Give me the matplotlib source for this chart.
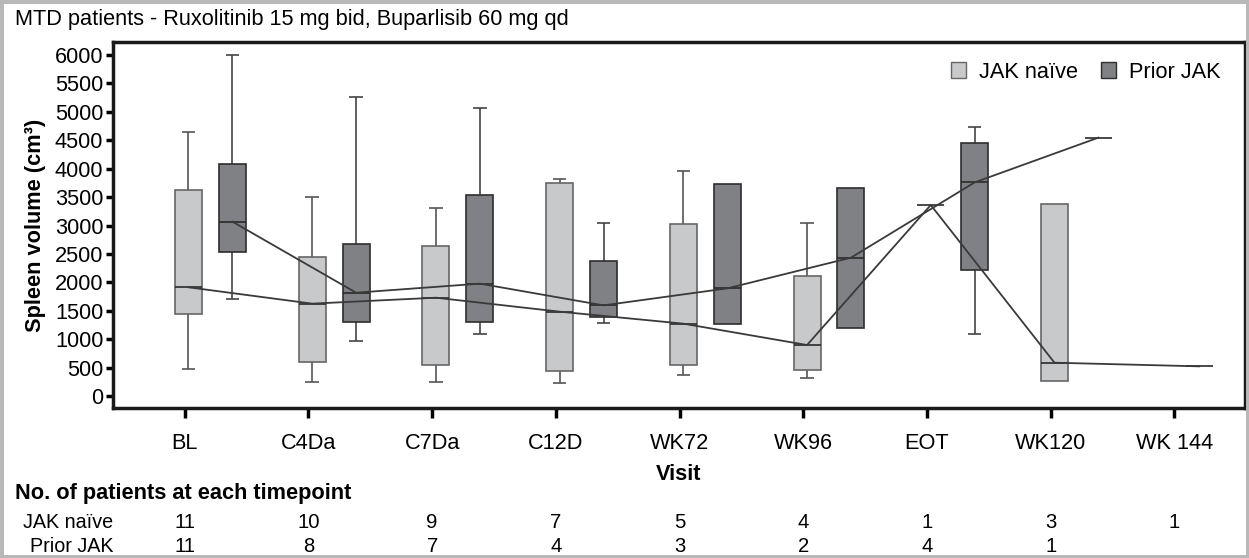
import numpy as np
import matplotlib
matplotlib.use("Agg")
import matplotlib.pyplot as plt
from matplotlib.patches import Rectangle, Patch

plt.rcParams['font.family'] = ['Liberation Sans', 'DejaVu Sans']

nan = np.nan
visits = ["BL", "C4Da", "C7Da", "C12D", "WK72", "WK96", "EOT", "WK120", "WK 144"]

naive_whishi = [4651, 3496, 3302, 3813, 3959, 3038, nan, nan, nan]
naive_q3     = [3619, 2452, 2646, 3742, 3020, 2118, nan, 3373, nan]
naive_med    = [1913, 1625, 1730, 1484, 1273, 897, 3361, 586, 522]
naive_q1     = [1443, 592, 540, 440, 540, 457, nan, 269, nan]
naive_whislo = [475, 253, 253, 223, 376, 323, nan, nan, nan]

prior_whishi = [6000, 5268, 5068, 3050, nan, nan, 4728, nan, nan]
prior_q3     = [4077, 2669, 3537, 2369, 3724, 3654, 4458, nan, nan]
prior_med    = [3068, 1818, 1977, 1595, 1894, 2434, 3759, 4546, nan]
prior_q1     = [2540, 1296, 1308, 1396, 1261, 1196, 2217, nan, nan]
prior_whislo = [1701, 962, 1091, 1278, nan, nan, 1091, nan, nan]

n_naive = ["11", "10", "9", "7", "5", "4", "1", "3", "1"]
n_prior = ["11", "8", "7", "4", "3", "2", "4", "1", ""]

FS = 15.7
W, H = 1249, 558
fig = plt.figure(figsize=(W / 100, H / 100), dpi=100)
ax = fig.add_axes([113 / W, 1 - 408 / H, (1245 - 113) / W, (408 - 42) / H])

x = np.arange(len(visits), dtype=float)
pos_naive = x + 0.03
pos_prior = x + 0.385
pos_naive[-1] = x[-1] + 0.2  # last single value drawn slightly right in source
bw = 0.218
cw = 0.11

def draw_group(pos, whishi, q3, med, q1, whislo, fill, edge, wcol, z):
    whishi, q3, med, q1, whislo = map(np.asarray, (whishi, q3, med, q1, whislo))
    for i, p in enumerate(pos):
        if not np.isnan(q3[i]):
            ax.bar(p, q3[i] - q1[i], bottom=q1[i], width=bw, color=fill,
                   edgecolor=edge, linewidth=1.2, zorder=z)
            ax.hlines(med[i], p - bw / 2, p + bw / 2, color="#2a2a2a", lw=1.2, zorder=z + 1)
        elif not np.isnan(med[i]):
            ax.hlines(med[i], p - bw / 2, p + bw / 2, color="#2a2a2a", lw=1.2, zorder=z + 1)
        if not np.isnan(whishi[i]):
            ax.vlines(p, q3[i], whishi[i], color=wcol, lw=1.2, zorder=z - 1)
            ax.hlines(whishi[i], p - cw / 2, p + cw / 2, color=wcol, lw=1.2, zorder=z - 1)
        if not np.isnan(whislo[i]):
            ax.vlines(p, whislo[i], q1[i], color=wcol, lw=1.2, zorder=z - 1)
            ax.hlines(whislo[i], p - cw / 2, p + cw / 2, color=wcol, lw=1.2, zorder=z - 1)

c_naive, c_prior = "#c8c9cb", "#808185"
draw_group(pos_naive, naive_whishi, naive_q3, naive_med, naive_q1, naive_whislo,
           c_naive, "#666666", "#555555", 3)
draw_group(pos_prior, prior_whishi, prior_q3, prior_med, prior_q1, prior_whislo,
           c_prior, "#2e2e2e", "#444444", 3)

nm = np.asarray(naive_med, float)
pm = np.asarray(prior_med, float)
ok = ~np.isnan(nm)
ax.plot(pos_naive[ok], nm[ok], color="#3a3a3a", lw=1.3, zorder=6)
ok = ~np.isnan(pm)
ax.plot(pos_prior[ok], pm[ok], color="#3a3a3a", lw=1.3, zorder=6)

ax.set_xlim(-0.58, 8.57)
ax.set_ylim(-211, 6229)
ax.set_yticks(np.arange(0, 6001, 500))
ax.set_xticks(x)
ax.set_xticklabels(visits, fontsize=FS)
ax.tick_params(axis="y", labelsize=FS, length=5, width=2.5, direction="out", pad=2)
ax.tick_params(axis="x", length=7, width=2.5, direction="out", pad=11)
for s in ax.spines.values():
    s.set_linewidth(2.5)
    s.set_color("#1a1a1a")

ax.set_ylabel("Spleen volume (cm³)", fontsize=FS, fontweight="bold", labelpad=6)
ax.set_xlabel("Visit", fontsize=FS, fontweight="bold", labelpad=7)

handles = [Patch(facecolor=c_naive, edgecolor="#666666", label="JAK naïve"),
           Patch(facecolor=c_prior, edgecolor="#2e2e2e", label="Prior JAK")]
ax.legend(handles=handles, loc="upper right", ncol=2, frameon=False, fontsize=FS,
          handlelength=0.7, handleheight=0.7, handletextpad=0.6, columnspacing=1.05,
          bbox_to_anchor=(0.996, 1.0))

fig.text(15 / W, 1 - 20 / H, "MTD patients - Ruxolitinib 15 mg bid, Buparlisib 60 mg qd",
         fontsize=FS, va="center", ha="left")
fig.text(15 / W, 1 - 493 / H, "No. of patients at each timepoint", fontsize=FS,
         fontweight="bold", va="center", ha="left")
fig.text(113 / W, 1 - 522 / H, "JAK naïve", fontsize=14.2, va="center", ha="right")
fig.text(113 / W, 1 - 547 / H, "Prior JAK", fontsize=14.2, va="center", ha="right")
for xi, a, b in zip(x, n_naive, n_prior):
    fx = (fig.transFigure.inverted().transform(ax.transData.transform((xi, 0))))[0]
    fig.text(fx, 1 - 522 / H, a, fontsize=14.6, va="center", ha="center")
    fig.text(fx, 1 - 547 / H, b, fontsize=14.6, va="center", ha="center")

fig.patches.append(Rectangle((0, 0), 1, 1, transform=fig.transFigure, fill=False,
                             edgecolor="#b8b8b8", linewidth=5, zorder=10))

fig.savefig("out.png", dpi=100)
